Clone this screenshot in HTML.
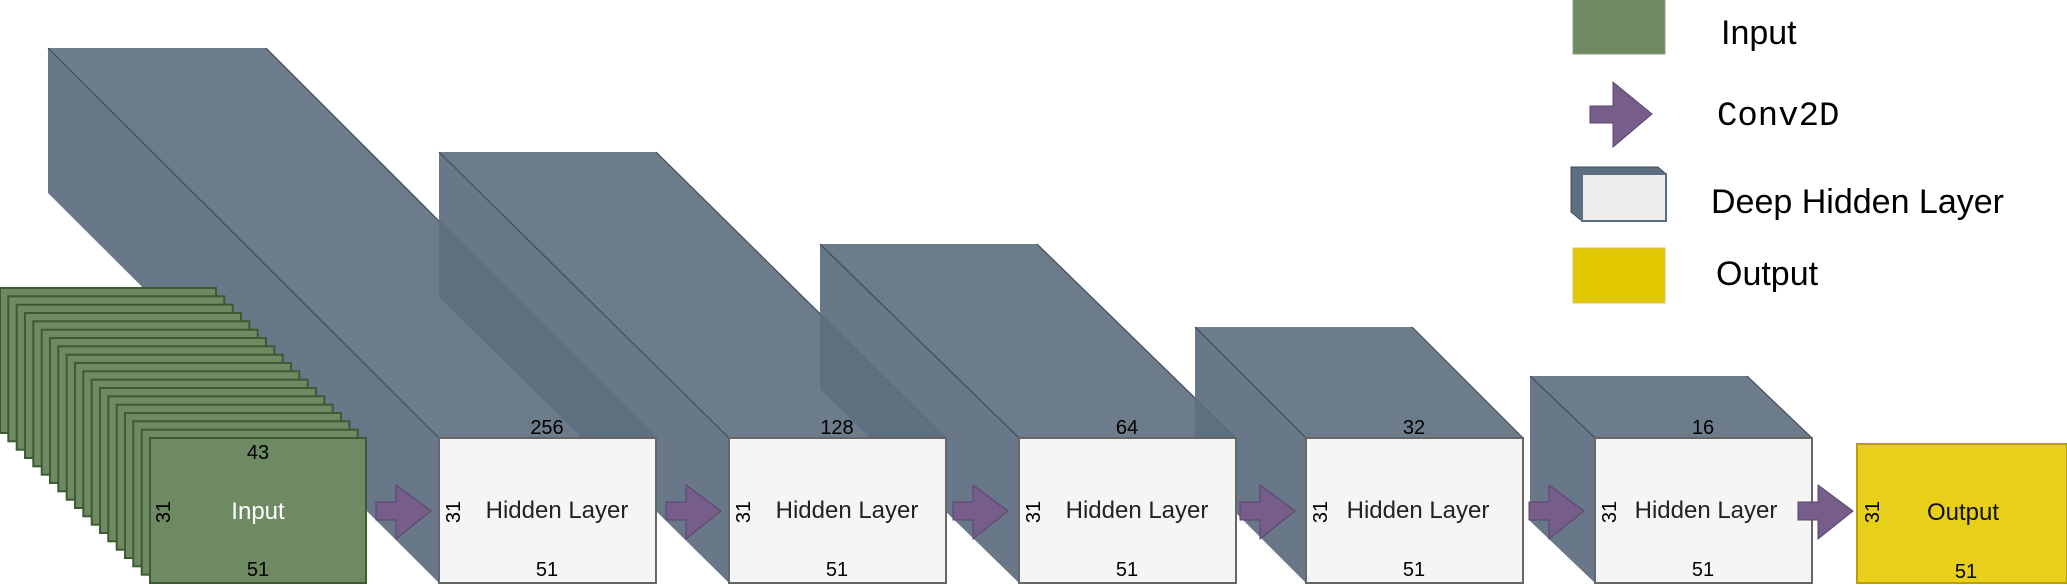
<!DOCTYPE html>
<html><head><meta charset="utf-8"><style>
html,body{margin:0;padding:0;background:#fff}
svg{display:block}
text{font-family:"Liberation Sans",sans-serif}
</style></head><body>
<svg width="2067" height="585" viewBox="0 0 2067 585" xmlns="http://www.w3.org/2000/svg">
<defs>
<g id="arr"><polygon points="0,502 20,502 20,485 55,511 20,539 20,520 0,520" fill="#765d8a" stroke="#5a4470" stroke-width="1"/></g>
</defs>
<g stroke="#3f4d5b" stroke-width="1.2">
<polygon points="48,48 266,48 656,438 656,583 439,583 48,193" fill="rgb(93,110,127)" fill-opacity="0.93" stroke="none"/>
<polygon points="48,48 266,48 656,438 439,438" fill="#6c7c8b" stroke="none"/>
<line x1="48" y1="48" x2="439" y2="438"/><line x1="266" y1="48" x2="656" y2="438"/>
<polygon points="439,152 656,152 946,438 946,583 729,583 439,297" fill="rgb(93,110,127)" fill-opacity="0.93" stroke="none"/>
<polygon points="439,152 656,152 946,438 729,438" fill="#6c7c8b" stroke="none"/>
<line x1="439" y1="152" x2="729" y2="438"/><line x1="656" y1="152" x2="946" y2="438"/>
<polygon points="820,244 1037,244 1236,438 1236,583 1019,583 820,389" fill="rgb(93,110,127)" fill-opacity="0.93" stroke="none"/>
<polygon points="820,244 1037,244 1236,438 1019,438" fill="#6c7c8b" stroke="none"/>
<line x1="820" y1="244" x2="1019" y2="438"/><line x1="1037" y1="244" x2="1236" y2="438"/>
<polygon points="1195,327 1412,327 1523,438 1523,583 1306,583 1195,472" fill="rgb(93,110,127)" fill-opacity="0.93" stroke="none"/>
<polygon points="1195,327 1412,327 1523,438 1306,438" fill="#6c7c8b" stroke="none"/>
<line x1="1195" y1="327" x2="1306" y2="438"/><line x1="1412" y1="327" x2="1523" y2="438"/>
<polygon points="1530,376 1747,376 1812,438 1812,583 1595,583 1530,521" fill="rgb(93,110,127)" fill-opacity="0.93" stroke="none"/>
<polygon points="1530,376 1747,376 1812,438 1595,438" fill="#6c7c8b" stroke="none"/>
<line x1="1530" y1="376" x2="1595" y2="438"/><line x1="1747" y1="376" x2="1812" y2="438"/>
</g>
<g fill="#6d8a62" stroke="#3d5a30" stroke-width="2">
<rect x="0" y="288" width="216" height="145"/>
<rect x="8.3" y="296.3" width="216" height="145"/>
<rect x="16.7" y="304.7" width="216" height="145"/>
<rect x="25" y="313" width="216" height="145"/>
<rect x="33.3" y="321.3" width="216" height="145"/>
<rect x="41.7" y="329.7" width="216" height="145"/>
<rect x="50" y="338" width="216" height="145"/>
<rect x="58.3" y="346.3" width="216" height="145"/>
<rect x="66.7" y="354.7" width="216" height="145"/>
<rect x="75" y="363" width="216" height="145"/>
<rect x="83.3" y="371.3" width="216" height="145"/>
<rect x="91.7" y="379.7" width="216" height="145"/>
<rect x="100" y="388" width="216" height="145"/>
<rect x="108.3" y="396.3" width="216" height="145"/>
<rect x="116.7" y="404.7" width="216" height="145"/>
<rect x="125" y="413" width="216" height="145"/>
<rect x="133.3" y="421.3" width="216" height="145"/>
<rect x="141.7" y="429.7" width="216" height="145"/>
<rect x="150" y="438" width="216" height="145"/>
</g>
<g fill="#f5f5f5" stroke="#666" stroke-width="2">
<rect x="439" y="438" width="217" height="145"/>
<rect x="729" y="438" width="217" height="145"/>
<rect x="1019" y="438" width="217" height="145"/>
<rect x="1306" y="438" width="217" height="145"/>
<rect x="1595" y="438" width="217" height="145"/>
</g>
<rect x="1857" y="444" width="210" height="139" fill="#e8cf1a" stroke="#b8a000" stroke-width="2"/>
<use href="#arr" x="376"/><use href="#arr" x="666"/><use href="#arr" x="953"/>
<use href="#arr" x="1240"/><use href="#arr" x="1529"/><use href="#arr" x="1798"/>
<g font-size="20" text-anchor="middle" fill="#000">
<text x="258" y="459">43</text><text x="258" y="576">51</text>
<text transform="translate(170,512) rotate(-90)">31</text>
<text x="547" y="434">256</text><text x="837" y="434">128</text><text x="1127" y="434">64</text><text x="1414" y="434">32</text><text x="1703" y="434">16</text>
<text x="547" y="576">51</text><text x="837" y="576">51</text><text x="1127" y="576">51</text><text x="1414" y="576">51</text><text x="1703" y="576">51</text><text x="1966" y="578">51</text>
<text transform="translate(460,512) rotate(-90)">31</text>
<text transform="translate(750,512) rotate(-90)">31</text>
<text transform="translate(1040,512) rotate(-90)">31</text>
<text transform="translate(1327,512) rotate(-90)">31</text>
<text transform="translate(1616,512) rotate(-90)">31</text>
<text transform="translate(1879,512) rotate(-90)">31</text>
</g>
<g font-size="24" text-anchor="middle" fill="#222">
<text x="258" y="519" fill="#fff">Input</text>
<text x="557" y="518">Hidden Layer</text>
<text x="847" y="518">Hidden Layer</text>
<text x="1137" y="518">Hidden Layer</text>
<text x="1418" y="518">Hidden Layer</text>
<text x="1706" y="518">Hidden Layer</text>
<text x="1963" y="520" fill="#111">Output</text>
</g>
<rect x="1573" y="-1" width="92" height="55" fill="#6d8a62" stroke="#8aa07f" stroke-width="1"/>
<polygon points="1590,106 1613,106 1613,82 1652,114 1613,147 1613,123 1590,123" fill="#765d8a" stroke="#5a4470" stroke-width="1"/>
<polygon points="1571,167 1658,167 1666,174 1666,221 1582,221 1571,212" fill="#5c6e80" stroke="#3f4d5b" stroke-width="1"/>
<rect x="1582" y="174" width="84" height="47" fill="#eeeeee" stroke="#5c6e80" stroke-width="2"/>
<rect x="1573" y="248" width="92" height="55" fill="#e2c800" stroke="#d8c060" stroke-width="1"/>
<g font-size="34" fill="#000">
<text x="1721" y="44">Input</text>
<text x="1717" y="125" style="font-family:'Liberation Mono',monospace">Conv2D</text>
<text x="1711" y="213">Deep Hidden Layer</text>
<text x="1716" y="285">Output</text>
</g>
</svg>
</body></html>
